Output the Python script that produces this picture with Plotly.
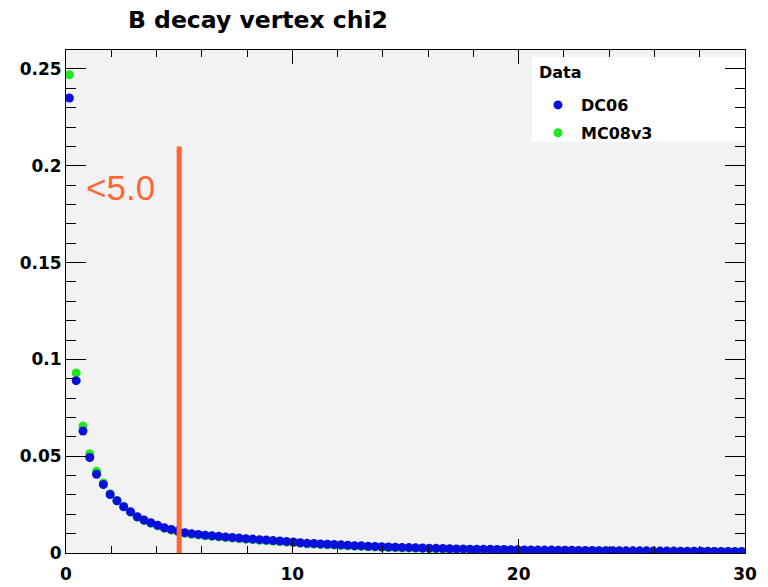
import numpy as np
import plotly.graph_objects as go

# ---- histogram binning (chi2 range 0..30, 100 bins) ----
BIN_LO = 0.0
BIN_HI = 30.0
N_BINS = 100

# ---- series values (normalised bin contents) ----
dc06 = [
    0.235, 0.089, 0.0630, 0.0493, 0.0407, 0.0354, 0.0302, 0.0270, 0.0239, 0.0213,
    0.0187, 0.0170, 0.0156, 0.0143, 0.0130, 0.0122, 0.0113, 0.0105, 0.0100, 0.0096,
    0.0092, 0.0089, 0.0086, 0.0083, 0.0080, 0.0077, 0.0074, 0.0072, 0.0069, 0.0067,
    0.0064, 0.0062, 0.0059, 0.0057, 0.0053, 0.0050, 0.0049, 0.0047, 0.0045, 0.0044,
    0.0042, 0.0040, 0.0038, 0.0037, 0.0035, 0.0034, 0.0032, 0.0031, 0.0030, 0.0029,
    0.0028, 0.0027, 0.0026, 0.0025, 0.0024, 0.0023, 0.0022, 0.0021, 0.0021, 0.0020,
    0.0020, 0.0019, 0.0019, 0.0018, 0.0018, 0.0017, 0.0017, 0.0016, 0.0016, 0.0015,
    0.0015, 0.0015, 0.0014, 0.0014, 0.0014, 0.0013, 0.0013, 0.0013, 0.0012, 0.0012,
    0.0012, 0.0012, 0.0011, 0.0011, 0.0011, 0.0011, 0.0010, 0.0010, 0.0010, 0.0010,
    0.0009, 0.0009, 0.0009, 0.0009, 0.0009, 0.0008, 0.0008, 0.0008, 0.0008, 0.0008,
]
mc08v3 = [
    0.247, 0.093, 0.0656, 0.0513, 0.0422, 0.0362, 0.0306, 0.0271, 0.0240, 0.0211,
    0.0185, 0.0167, 0.0153, 0.0140, 0.0127, 0.0119, 0.0110, 0.0102, 0.0097, 0.0093,
    0.0089, 0.0086, 0.0083, 0.0080, 0.0077, 0.0074, 0.0071, 0.0069, 0.0066, 0.0064,
    0.0061, 0.0059, 0.0056, 0.0054, 0.0050, 0.0047, 0.0046, 0.0044, 0.0042, 0.0041,
    0.0039, 0.0037, 0.0035, 0.0034, 0.0032, 0.0031, 0.0029, 0.0028, 0.0027, 0.0026,
    0.0025, 0.0024, 0.0023, 0.0022, 0.0021, 0.0020, 0.0019, 0.0019, 0.0018, 0.0018,
    0.0017, 0.0017, 0.0016, 0.0016, 0.0015, 0.0015, 0.0015, 0.0014, 0.0014, 0.0014,
    0.0013, 0.0013, 0.0013, 0.0012, 0.0012, 0.0012, 0.0012, 0.0011, 0.0011, 0.0011,
    0.0011, 0.0010, 0.0010, 0.0010, 0.0010, 0.0010, 0.0009, 0.0009, 0.0009, 0.0009,
    0.0009, 0.0008, 0.0008, 0.0008, 0.0008, 0.0008, 0.0007, 0.0007, 0.0007, 0.0007,
]

series_names = ["DC06", "MC08v3"]
legend_title = "Data"
chart_title = "B decay vertex chi2"
cut_value = 5.0
cut_top = 0.21
cut_label = "<5.0"

edges = np.linspace(BIN_LO, BIN_HI, N_BINS + 1)
centers = 0.5 * (edges[:-1] + edges[1:])

BLUE = "#0a10dc"
GREEN = "#22e622"
ORANGE = "#ff6633"
BOLD = dict(family="DejaVu Sans", size=17, color="black", weight="bold")
PW, PH, ML, MT = 679, 503, 66, 50


def px_x(p):
    return (p - ML) / PW


def px_y(p):
    return (MT + PH - p) / PH


fig = go.Figure()
fig.add_trace(go.Scatter(
    x=centers, y=mc08v3, mode="markers", name=series_names[1], legendrank=2,
    legendgroup="b",
    marker=dict(color=GREEN, size=9, line=dict(width=0)),
))
fig.add_trace(go.Scatter(
    x=centers, y=dc06, mode="markers", name=series_names[0], legendrank=1,
    legendgroup="a",
    marker=dict(color=BLUE, size=9, line=dict(width=0)),
))

# cut line
fig.add_shape(type="line", x0=cut_value, x1=cut_value, y0=0, y1=cut_top,
              xref="x", yref="y", line=dict(color=ORANGE, width=5), layer="above")
fig.add_annotation(x=0.8, y=0.189, xref="x", yref="y", text=cut_label,
                   showarrow=False, xanchor="left", yanchor="middle",
                   font=dict(family="Liberation Sans", size=35, color=ORANGE))

# legend box + header
fig.add_shape(type="rect", xref="paper", yref="paper",
              x0=px_x(532), x1=1.0, y0=px_y(142), y1=px_y(57),
              fillcolor="white", line=dict(width=0), layer="below")
fig.add_annotation(x=px_x(537), y=px_y(72), xref="paper", yref="paper",
                   text=legend_title, showarrow=False, xanchor="left", yanchor="middle",
                   font=dict(family="DejaVu Sans", size=16, color="black", weight="bold"))

fig.update_layout(
    width=768, height=587,
    margin=dict(l=ML, r=768 - ML - PW, t=MT, b=587 - MT - PH),
    paper_bgcolor="white",
    plot_bgcolor="#f2f2f2",
    title=dict(text=chart_title, xref="container", yref="container",
               x=128 / 768, xanchor="left", y=1 - 20 / 587, yanchor="middle",
               font=dict(family="DejaVu Sans", size=23.5, color="black", weight="bold")),
    showlegend=True,
    legend=dict(
        x=px_x(535), y=px_y(88), xanchor="left", yanchor="top",
        bgcolor="rgba(0,0,0,0)", borderwidth=0,
        font=dict(family="DejaVu Sans", size=16, color="black", weight="bold"),
        traceorder="grouped", tracegroupgap=4, itemwidth=36,
    ),
    xaxis=dict(
        range=[BIN_LO, BIN_HI], showgrid=False, zeroline=False, automargin=False,
        showline=True, linecolor="black", linewidth=1, mirror="ticks",
        ticks="inside", ticklen=14, tickcolor="black", tickwidth=1,
        tick0=0, dtick=10, tickfont=BOLD, ticklabelstandoff=6,
        minor=dict(ticks="inside", ticklen=7, dtick=2, tickcolor="black", showgrid=False),
    ),
    yaxis=dict(
        range=[0, 0.2598], showgrid=False, zeroline=False, automargin=False,
        showline=True, linecolor="black", linewidth=1, mirror="ticks",
        ticks="inside", ticklen=20, tickcolor="black", tickwidth=1,
        tick0=0, dtick=0.05, tickfont=BOLD,
        minor=dict(ticks="inside", ticklen=10, dtick=0.01, tickcolor="black", showgrid=False),
    ),
)

fig.write_html("out.html")
